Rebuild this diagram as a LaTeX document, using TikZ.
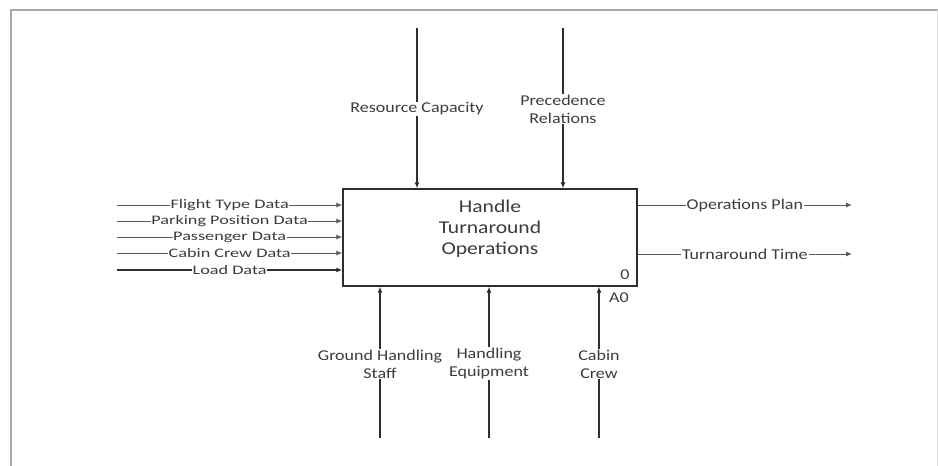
\documentclass[tikz,border=0pt]{standalone}
\usepackage{fontspec}
\setmainfont{Carlito}[FakeStretch=1.2]
\newfontfamily\leftfont{Carlito}[FakeStretch=1.4]
\usetikzlibrary{arrows.meta}
\definecolor{txt}{HTML}{3C3C3C}
\definecolor{ln}{HTML}{2E2E2E}
\definecolor{frame}{HTML}{A8A8A8}
\tikzset{
  conn/.style={draw=ln, line width=1.1pt, -{Latex[length=6pt,width=5pt]}},
  inconn/.style={draw=ln!80, line width=1pt, -{Latex[length=6pt,width=5pt]}},
  lbl/.style={fill=white, text=txt, inner sep=1pt, align=center,
    font=\fontsize{15}{18}\selectfont},
  leftlbl/.style={fill=white, text=txt, inner sep=0.5pt,
    font=\leftfont\fontsize{13}{15}\selectfont},
  procbox/.style={draw=ln, line width=1.4pt, minimum width=294pt, minimum height=97pt, inner sep=0pt},
  title/.style={text=txt, align=center, font=\fontsize{18}{21}\selectfont},
}
\begin{document}
\begin{tikzpicture}[x=1pt,y=-1pt]
\useasboundingbox (0,0) rectangle (938,466);
\fill[white] (0,0) rectangle (938,466);
% frame
\draw[frame, line width=2.2pt] (11,466) -- (11,10) -- (938,10);
\draw[frame!40, line width=0.8pt] (937,10) -- (937,466);

% main box
\node[procbox] (box) at (490,237.5) {};
\node[title] (boxtitle) at (490,229) {Handle\\Turnaround\\Operations};
\node[text=txt, font=\fontsize{15}{18}\selectfont, anchor=east] (num) at (633,275) {0};
\node[text=txt, font=\fontsize{15}{18}\selectfont] (aref) at (619,298) {A0};

% inputs
\coordinate (i1) at (117,205);
\coordinate (i2) at (117,221);
\coordinate (i3) at (117,237);
\coordinate (i4) at (117,253);
\coordinate (i5) at (117,270);
\draw[inconn] (i1) -- (i1 -| box.west) node[leftlbl, pos=0.5] (l1) {Flight Type Data};
\draw[inconn] (i2) -- (i2 -| box.west) node[leftlbl, pos=0.5] (l2) {Parking Position Data};
\draw[inconn] (i3) -- (i3 -| box.west) node[leftlbl, pos=0.5] (l3) {Passenger Data};
\draw[inconn] (i4) -- (i4 -| box.west) node[leftlbl, pos=0.5] (l4) {Cabin Crew Data};
\draw[conn, line width=1.5pt] (i5) -- (i5 -| box.west) node[leftlbl, pos=0.5] (l5) {Load Data};

% outputs
\coordinate (o1) at (852,205);
\coordinate (o2) at (852,254);
\draw[inconn] (o1 -| box.east) -- (o1) node[lbl, pos=0.5] (r1) {Operations Plan};
\draw[inconn] (o2 -| box.east) -- (o2) node[lbl, pos=0.5] (r2) {Turnaround Time};

% controls
\coordinate (c1) at (417,28);
\coordinate (c2) at (563,28);
\draw[conn] (c1) -- (c1 |- box.north) node[lbl, pos=0.505] (t1) {Resource Capacity};
\draw[conn] (c2) -- (c2 |- box.north) node[lbl, pos=0.505] (t2) {Precedence\\Relations};

% mechanisms
\coordinate (m1) at (380,438);
\coordinate (m2) at (489,438);
\coordinate (m3) at (599,438);
\draw[conn] (m1) -- (m1 |- box.south) node[lbl, pos=0.49] (b1) {Ground Handling\\Staff};
\draw[conn] (m2) -- (m2 |- box.south) node[lbl, pos=0.49] (b2) {Handling\\Equipment};
\draw[conn] (m3) -- (m3 |- box.south) node[lbl, pos=0.49] (b3) {Cabin\\Crew};
\end{tikzpicture}
\end{document}
